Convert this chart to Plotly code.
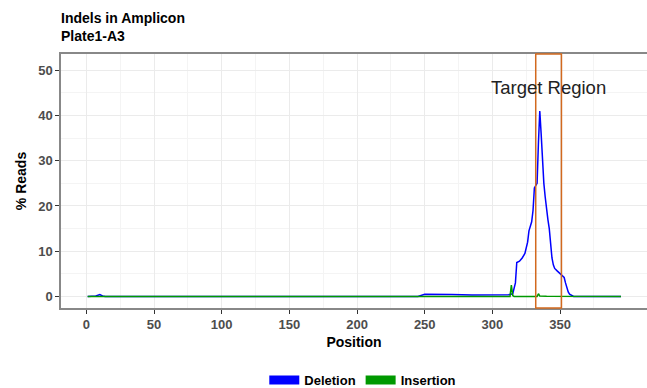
import plotly.graph_objects as go

# Deletion profile (position, % reads)
del_pos = [1, 7, 10, 12, 14, 245, 250, 260, 270, 285, 300, 312, 315, 317, 318, 320, 322, 324, 326, 327,
           329, 330, 331, 332, 333, 334, 335, 336, 337, 338, 339, 340, 341, 342, 343, 344, 345, 346,
           348, 350, 352, 353, 354, 355, 356, 357, 358, 360, 395]
del_pct = [0, 0.1, 0.4, 0.1, 0, 0, 0.5, 0.55, 0.45, 0.35, 0.3, 0.4, 0.6, 3, 7.5, 7.8, 8.5, 9.5, 12, 14.5,
           16.5, 19, 24, 24.5, 25, 34, 41, 36, 30, 25, 22, 19, 17, 15, 11, 8.5, 7, 6.2,
           5.6, 5, 4.6, 4.2, 3, 1.8, 1, 0.5, 0.3, 0, 0]

# Insertion profile
ins_pos = [1, 313, 314, 315, 316, 333, 334, 335, 340, 395]
ins_pct = [0, 0, 2.5, 0.2, 0, 0, 0.6, 0.1, 0.05, 0]

x_ticks = [0, 50, 100, 150, 200, 250, 300, 350]
y_ticks = [0, 10, 20, 30, 40, 50]
target_start, target_end = 332, 351

BLUE = "#0000FF"
GREEN = "#009900"
FONT = "Liberation Sans"

fig = go.Figure()
fig.add_trace(go.Scatter(x=del_pos, y=del_pct, mode="lines", line=dict(color=BLUE, width=1.5),
                         showlegend=False))
fig.add_trace(go.Scatter(x=ins_pos, y=ins_pct, mode="lines", line=dict(color=GREEN, width=1.5),
                         showlegend=False))
# legend entries
fig.add_trace(go.Scatter(x=[None], y=[None], mode="lines", name="Deletion",
                         line=dict(color=BLUE, width=9)))
fig.add_trace(go.Scatter(x=[None], y=[None], mode="lines", name="Insertion",
                         line=dict(color=GREEN, width=9)))

fig.add_shape(type="rect", x0=target_start, x1=target_end, xref="x", y0=0, y1=1, yref="paper",
              line=dict(color="#D2691E", width=1.5), fillcolor="rgba(0,0,0,0)", layer="above")
fig.add_annotation(x=(target_start + target_end) / 2, y=46.3, text="Target Region", showarrow=False,
                   font=dict(family=FONT, size=18.5, color="#222222"), xanchor="center", yanchor="middle")

fig.update_layout(
    width=647, height=388,
    margin=dict(l=61, r=0, t=54, b=80, autoexpand=False),
    paper_bgcolor="white", plot_bgcolor="white",
    font=dict(family=FONT, color="#000000"),
    title=dict(text="<b>Indels in Amplicon<br>Plate1-A3</b>", x=61/647, xanchor="left",
               y=1 - 23/388, yanchor="top", font=dict(family=FONT, size=14, color="#000000")),
    legend=dict(orientation="h", x=0.515, xanchor="center", y=-0.225, yanchor="top",
                font=dict(family=FONT, size=13, weight="bold"), itemwidth=30,
                tracegroupgap=0),
    xaxis=dict(range=[-18.7, 414.2], tickvals=x_ticks, ticks="outside", ticklen=4, tickcolor="#333333",
               tickfont=dict(family=FONT, size=13, color="#4d4d4d", weight="bold"),
               showgrid=True, gridcolor="#EBEBEB", gridwidth=1,
               minor=dict(tickvals=[25, 75, 125, 175, 225, 275, 325, 375], showgrid=True,
                          gridcolor="#F4F4F4", gridwidth=1),
               showline=True, linecolor="#888888", linewidth=1.5, mirror=True, zeroline=False,
               automargin=False,
               title=dict(text="<b>Position</b>", font=dict(family=FONT, size=14, color="#000"),
                          standoff=6)),
    yaxis=dict(range=[-2.55, 53.6], tickvals=y_ticks, ticks="outside", ticklen=4, tickcolor="#333333",
               tickfont=dict(family=FONT, size=13, color="#4d4d4d", weight="bold"),
               showgrid=True, gridcolor="#EBEBEB", gridwidth=1,
               minor=dict(tickvals=[5, 15, 25, 35, 45], showgrid=True, gridcolor="#F4F4F4", gridwidth=1),
               showline=True, linecolor="#888888", linewidth=1.5, zeroline=False,
               automargin=False,
               title=dict(text="<b>% Reads</b>", font=dict(family=FONT, size=14, color="#000"),
                          standoff=8)),
)

fig.write_html("out.html", config={"displayModeBar": False})

# remove default page margin so the figure sits at the window's top-left corner
with open("out.html", "r", encoding="utf-8") as f:
    html = f.read()
html = html.replace("<head>", "<head><style>html,body{margin:0;padding:0;overflow:hidden;}</style>", 1)
with open("out.html", "w", encoding="utf-8") as f:
    f.write(html)
